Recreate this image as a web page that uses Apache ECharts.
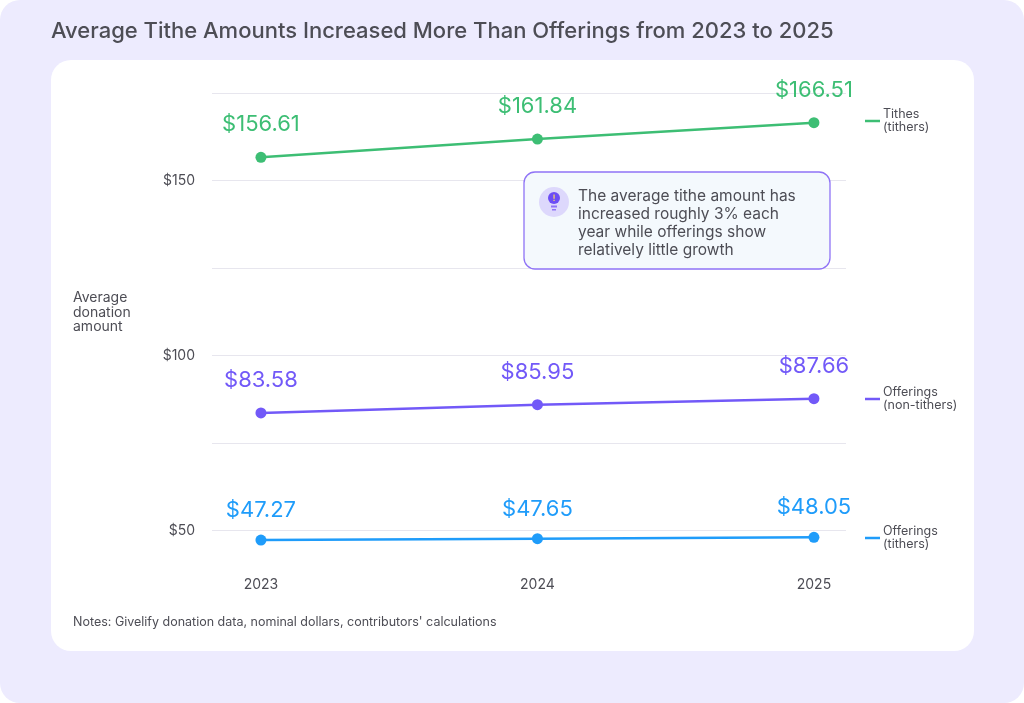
<!DOCTYPE html>
<html><head><meta charset="utf-8">
<style>html,body{margin:0;padding:0;background:#fff}#c{width:1024px;height:703px}</style>
<script src="https://cdn.jsdelivr.net/npm/echarts@6/dist/echarts.min.js"></script>
</head><body><div id="c"></div>
<script>
const years = [2023, 2024, 2025];
const tithes = [156.61, 161.84, 166.51];
const offeringsNon = [83.58, 85.95, 87.66];
const offeringsTithers = [47.27, 47.65, 48.05];
const yTicks = [50, 100, 150];
const FONT = 'Inter, "Noto Sans", sans-serif';
const GREEN = '#3DBE74', PURPLE = '#7259F8', BLUE = '#1F9CFA', TEXT = '#4D4D55';
const chart = echarts.init(document.getElementById('c'), null, {renderer:'canvas'});
function ser(name, vals, color, dist){
  return {name, type:'line', data:vals.map((v,i)=>[years[i],v]), symbol:'circle', symbolSize:11,
    lineStyle:{color, width:2.5}, itemStyle:{color}, silent:true,
    label:{show:true, position:'top', distance:dist, color, fontSize:22, fontFamily:FONT, fontWeight:400,
      formatter:p=>'$'+p.value[1].toFixed(2)}};
}
function legendItem(y, color, l1, l2){
  return [
    {type:'rect', z:5, shape:{x:865,y:y-1.25,width:15,height:2.5}, style:{fill:color}},
    {type:'text', z:5, style:{x:883,y:y-6.5,text:l1,font:'12.5px '+FONT,fill:TEXT,textAlign:'left',textVerticalAlign:'middle'}},
    {type:'text', z:5, style:{x:883,y:y+6.5,text:l2,font:'12.5px '+FONT,fill:TEXT,textAlign:'left',textVerticalAlign:'middle'}}
  ];
}
chart.setOption({
  animation:false,
  grid:{left:212, right:178, top:93, bottom:85},
  xAxis:{type:'value', min:2022.823, max:2025.116, splitLine:{show:false}, axisLine:{show:false}, axisTick:{show:false},
    axisLabel:{customValues:years, margin:-40, color:TEXT, fontSize:14, fontFamily:FONT, formatter:v=>String(v)}},
  yAxis:{type:'value', min:25, max:175, interval:25,
    splitLine:{show:true, showMinLine:false, lineStyle:{color:'#E7E6EE', width:1}},
    axisLine:{show:false}, axisTick:{show:false},
    axisLabel:{customValues:yTicks, margin:17, color:TEXT, fontSize:14, fontFamily:FONT, padding:[0,0,10,0], formatter:v=>'$'+v}},
  series:[ser('Tithes (tithers)',tithes,GREEN,16), ser('Offerings (non-tithers)',offeringsNon,PURPLE,16), ser('Offerings (tithers)',offeringsTithers,BLUE,13)],
  graphic:{elements:[
    {type:'rect', z:-20, shape:{x:0,y:0,width:1024,height:703,r:20}, style:{fill:'#EDEBFE'}},
    {type:'rect', z:-19, shape:{x:51,y:60,width:923,height:591,r:20}, style:{fill:'#fff'}},
    {type:'text', z:5, style:{x:51,y:31,text:'Average Tithe Amounts Increased More Than Offerings from 2023 to 2025',font:'500 22px '+FONT,fill:TEXT,textVerticalAlign:'middle'}},
    {type:'text', z:5, style:{x:73,y:298,text:'Average',font:'14px '+FONT,fill:TEXT,textVerticalAlign:'middle'}},
    {type:'text', z:5, style:{x:73,y:313,text:'donation',font:'14px '+FONT,fill:TEXT,textVerticalAlign:'middle'}},
    {type:'text', z:5, style:{x:73,y:327,text:'amount',font:'14px '+FONT,fill:TEXT,textVerticalAlign:'middle'}},
    {type:'text', z:5, style:{x:73,y:622,text:"Notes: Givelify donation data, nominal dollars, contributors' calculations",font:'12.5px '+FONT,fill:TEXT,textVerticalAlign:'middle'}},
    ...legendItem(121,GREEN,'Tithes','(tithers)'),
    ...legendItem(399,PURPLE,'Offerings','(non-tithers)'),
    ...legendItem(538,BLUE,'Offerings','(tithers)'),
    {type:'rect', z:20, shape:{x:524,y:172,width:306,height:97,r:11}, style:{fill:'#F4F9FD',stroke:'#8F73F6',lineWidth:1.3}},
    {type:'circle', z:21, shape:{cx:554,cy:202,r:15}, style:{fill:'#DDD8FC'}},
    {type:'circle', z:22, shape:{cx:554,cy:198,r:6}, style:{fill:'#6C4DF5'}},
    {type:'rect', z:22, shape:{x:551,y:205.5,width:6,height:2}, style:{fill:'#8F73F6'}},
    {type:'rect', z:22, shape:{x:552,y:209,width:4,height:1.5}, style:{fill:'#8F73F6'}},
    {type:'rect', z:23, shape:{x:553.4,y:194.5,width:1.3,height:4.2}, style:{fill:'#F5D36A'}},
    {type:'rect', z:23, shape:{x:553.4,y:199.8,width:1.3,height:1.3}, style:{fill:'#F5D36A'}},
    ...['The average tithe amount has','increased roughly 3% each','year while offerings show','relatively little growth'].map((t,i)=>({
      type:'text', z:22, style:{x:578,y:196+i*18.2,text:t,font:'15.5px '+FONT,fill:TEXT,textVerticalAlign:'middle'}}))
  ]}
});
</script></body></html>
